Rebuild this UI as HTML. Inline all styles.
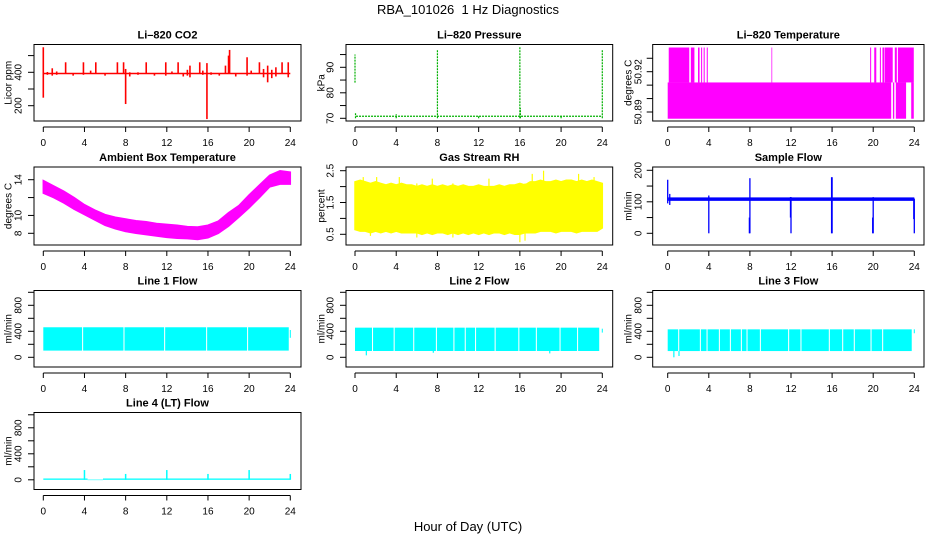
<!DOCTYPE html>
<html><head><meta charset="utf-8"><style>
html,body{margin:0;padding:0;background:#fff;}
svg{display:block;font-family:"Liberation Sans",Arial,sans-serif;}
</style></head><body>
<svg id="chart" width="936" height="540" viewBox="0 0 936 540" xmlns="http://www.w3.org/2000/svg">
<text x="468" y="14" text-anchor="middle" font-size="13">RBA_101026&#160; 1 Hz Diagnostics</text>
<text x="468" y="531" text-anchor="middle" font-size="13">Hour of Day (UTC)</text>
</svg>
<script>
// ---- data ----
const xTicks = [0,4,8,12,16,20,24];
// CO2
const co2Base = 393;
const co2Spikes = [[0,248,550],[0.4,385,402],[0.87,380,424],[1.3,385,405],[2.17,390,460],[2.9,380,395],[3.9,385,460],[4.6,390,410],[5.1,390,460],[6.0,380,395],[7.2,390,460],[7.8,390,460],[8.0,210,420],[8.4,375,400],[9.2,385,400],[10.0,390,460],[10.8,380,395],[11.9,380,460],[12.5,390,405],[13.1,390,460],[13.6,375,395],[14.25,370,440],[14.0,380,415],[15.2,390,460],[15.5,385,410],[15.9,120,455],[16.3,385,400],[17.1,380,395],[17.7,390,440],[18.0,390,500],[18.1,390,534],[18.7,375,395],[19.8,380,490],[20.2,390,410],[21.0,390,460],[21.4,370,420],[21.8,340,440],[22.2,365,415],[22.6,375,430],[23.2,390,460],[23.8,370,460]];
// Pressure
const presBase = 70.8;
const presSpikes = [[0,84,95],[0.05,70,72],[4,70,71.6],[8,70,97],[12,70,71],[16,70,98],[16.05,70,74],[20,70,71],[24,70,97]];
// Li-820 temperature
const tempLow = 50.885, tempMid = 50.912, tempHigh = 50.938;
const tempHighSegs = [[0.1,2.1],[2.25,2.6],[2.95,3.1],[3.25,3.35],[3.5,3.6],[3.8,3.9],[10.1,10.17],[19.7,19.8],[20.1,20.3],[20.65,20.75],[20.9,21.05],[21.1,21.9],[22.1,22.3],[22.4,23.95]];
const tempLowSegs = [[0,21.75],[21.92,22.05],[22.2,23.2],[23.7,23.95]];
// Ambient box temperature (hourly envelope)
const ambUpper = [13.9,13.3,12.7,12.0,11.2,10.6,10.1,9.8,9.6,9.4,9.3,9.1,9.0,8.9,8.75,8.7,8.9,9.35,10.3,11.1,12.3,13.4,14.5,15.0,14.85];
const ambLower = [12.5,12.0,11.4,10.7,10.1,9.5,8.9,8.5,8.2,8.0,7.85,7.7,7.55,7.45,7.4,7.3,7.5,8.0,8.8,9.8,10.85,12.0,13.2,13.5,13.5];
// Gas stream RH (half-hourly envelope)
const rhUpper = [2.15,2.2,2.15,2.1,2.15,2.1,2.05,2.1,2.05,2.1,2.05,2.05,2.0,2.05,2.0,2.05,2.0,2.05,2.0,2.05,2.0,2.05,2.0,2.0,2.05,2.0,2.0,2.0,2.05,2.0,2.05,2.05,2.1,2.05,2.15,2.15,2.2,2.15,2.15,2.2,2.15,2.2,2.2,2.15,2.2,2.15,2.2,2.15,2.1];
const rhLower = [0.65,0.6,0.6,0.55,0.6,0.55,0.6,0.55,0.6,0.55,0.55,0.55,0.55,0.5,0.55,0.5,0.55,0.55,0.5,0.55,0.5,0.55,0.5,0.55,0.5,0.55,0.5,0.55,0.55,0.5,0.55,0.5,0.5,0.55,0.55,0.55,0.6,0.6,0.6,0.55,0.6,0.6,0.6,0.55,0.6,0.6,0.6,0.6,0.7];
const rhSpikes = [[0.8,0.6,2.3],[1.5,0.45,2.1],[2.1,0.6,2.3],[4.3,0.6,2.3],[6.0,0.4,2.1],[7.5,0.6,2.25],[9.5,0.4,2.1],[13.0,0.6,2.25],[16.0,0.25,2.1],[16.5,0.3,2.1],[17.2,0.6,2.4],[18.3,0.6,2.5],[21.7,0.6,2.4],[23.2,0.6,2.3]];
// Sample flow
const sfLow = 103, sfHigh = 114;
const sfSpikes = [[0,95,170],[0.2,90,125],[4,0,120],[7.95,0,50],[8,0,175],[11.95,50,115],[12,0,115],[15.95,0,178],[16,0,178],[19.95,0,50],[20,0,115],[23.95,45,110],[24,0,110]];
// Line flows
const l1Band = [103,462], l1Gaps = [3.82,7.84,11.79,15.87,19.85], l1End = 23.85, l1Tail = [300,420];
const l2Band = [97,456], l2Gaps = [1.7,3.8,5.7,7.9,9.6,10.7,11.7,13.6,15.9,17.6,19.9,21.6], l2End = 23.7, l2Tail = [380,440];
const l3Band = [96,430], l3Gaps = [1.07,3.18,3.83,5.03,6.1,7.17,7.72,9.02,11.77,12.97,15.73,17.03,18.16,19.79,20.92], l3End = 23.75, l3Tail = [370,430];
const l2Dips = [[1.1,30],[7.6,70],[18.9,60]];
const l3Dips = [[0.6,0],[1.1,20]];
const l4Base = [0,20];
const l4Zero = [4.3,5.8];
const l4Spikes = [[4,150],[8,90],[12,150],[16,90],[20,150],[24,90]];

// ---- layout ----
const NS = "http://www.w3.org/2000/svg";
const svg = document.getElementById('chart');
const cols = [
 {b0:34,b1:301,x0:43.3,x24:290.3,yt:9,yl:19},
 {b0:346,b1:612.7,x0:355,x24:602.3,yt:322,yl:331},
 {b0:652.7,b1:924,x0:667.7,x24:914.3,yt:629,yl:639}];
const rows = [[44.5,121],[167,245],[290.5,367],[412.5,489.5]];
function mk(tag, attrs, parent){const e=document.createElementNS(NS,tag);for(const k in attrs)e.setAttribute(k,attrs[k]);(parent||svg).appendChild(e);return e;}
function panel(name,c,r,title,ytitle,ref,ticks,labels){
  const C=cols[c],R=rows[r];
  const g=mk('g',{});
  
  
  const x=h=>C.x0+(C.x24-C.x0)*h/24;
  const y=v=>ref[1]+(v-ref[0])*(ref[3]-ref[1])/(ref[2]-ref[0]);
  const t=mk('text',{x:(C.b0+C.b1)/2,y:R[0]-6,'text-anchor':'middle','font-size':'11','font-weight':'bold'},g);
  t.textContent=title;
  
  
  const yt=mk('text',{transform:`translate(${C.yt},${(R[0]+R[1])/2}) rotate(-90)`,'text-anchor':'middle','dominant-baseline':'central','font-size':'10'},g);
  yt.textContent=ytitle;
  
  
  const marks=mk('g',{},g);
  
  
  const ax=mk('g',{stroke:'#000','stroke-width':'1'},g);
  
  
  mk('rect',{x:C.b0,y:R[0],width:C.b1-C.b0,height:R[1]-R[0],fill:'none'},ax);
  mk('line',{x1:x(0),x2:x(24),y1:R[1]+6,y2:R[1]+6},ax);
  xTicks.forEach(h=>{mk('line',{x1:x(h),x2:x(h),y1:R[1]+6,y2:R[1]+11},ax);
    const l=mk('text',{x:x(h),y:R[1]+25,'text-anchor':'middle','font-size':'10',stroke:'none'},ax);l.textContent=h;
    
    });
  ticks.forEach(v=>{mk('line',{x1:C.b0-6,x2:C.b0,y1:y(v),y2:y(v)},ax);});
  labels.forEach(v=>{const l=mk('text',{transform:`translate(${C.yl},${y(v)}) rotate(-90)`,'text-anchor':'middle','dominant-baseline':'central','font-size':'10',stroke:'none'},ax);l.textContent=v;
    
    });
  return {x,y,g:marks};
}
function vline(p,h,a,b,col,w){mk('line',{x1:p.x(h),x2:p.x(h),y1:p.y(a),y2:p.y(b),stroke:col,'stroke-width':w||1.2},p.g);}
function band(p,h0,h1,a,b,col){const ya=p.y(a),yb=p.y(b);mk('rect',{x:p.x(h0),y:Math.min(ya,yb),width:p.x(h1)-p.x(h0),height:Math.abs(ya-yb),fill:col},p.g);}
function envelope(p,up,lo,step,col){let pts=[];up.forEach((v,i)=>{pts.push(p.x(i*step)+','+p.y(v));});
  for(let i=lo.length-1;i>=0;i--)pts.push(p.x(i*step)+','+p.y(lo[i]));
  mk('polygon',{points:pts.join(' '),fill:col,stroke:col,'stroke-width':'1.5'},p.g);}

// CO2
const pCo2=panel('co2-panel',0,0,'Li–820 CO2','Licor ppm',[400,72.3,200,105.7],[200,300,400,500],[200,400]);
mk('line',{x1:pCo2.x(0),x2:pCo2.x(24),y1:pCo2.y(co2Base),y2:pCo2.y(co2Base),stroke:'#f00','stroke-width':1.5},pCo2.g);
co2Spikes.forEach(s=>vline(pCo2,s[0],s[1],s[2],'#f00',1.6));
// Pressure
const pPr=panel('pressure-panel',1,0,'Li–820 Pressure','kPa',[70,118.3,90,67.3],[70,75,80,85,90,95],[70,80,90]);
mk('line',{x1:pPr.x(0.1),x2:pPr.x(24),y1:pPr.y(presBase),y2:pPr.y(presBase),stroke:'#00b000','stroke-width':1.3,'stroke-dasharray':'2,1'},pPr.g);
presSpikes.forEach(s=>{mk('line',{x1:pPr.x(s[0]),x2:pPr.x(s[0]),y1:pPr.y(s[1]),y2:pPr.y(s[2]),stroke:'#00b000','stroke-width':1.2,'stroke-dasharray':'2,1'},pPr.g);});
// Li-820 temperature
const pT=panel('li820-temperature-panel',2,0,'Li–820 Temperature','degrees C',[50.89,112,50.92,71.7],[50.89,50.90,50.91,50.92,50.93],[50.89,50.92]);
tempHighSegs.forEach(s=>band(pT,s[0],s[1],tempMid,tempHigh,'#f0f'));
tempLowSegs.forEach(s=>band(pT,s[0],s[1],tempLow,tempMid,'#f0f'));
// Ambient
const pA=panel('ambient-temperature-panel',0,1,'Ambient Box Temperature','degrees C',[14,179.7,8,233.3],[8,10,12,14],[8,10,14]);
envelope(pA,ambUpper,ambLower,1,'#f0f');
// RH
const pRH=panel('rh-panel',1,1,'Gas Stream RH','percent',[2.5,170.7,0.5,234.3],[0.5,1,1.5,2,2.5],[0.5,1.5,2.5]);
envelope(pRH,rhUpper,rhLower,0.5,'#ff0');
rhSpikes.forEach(s=>vline(pRH,s[0],s[1],s[2],'#ff0',1.2));
// Sample flow
const pSF=panel('sample-flow-panel',2,1,'Sample Flow','ml/min',[200,170.3,0,233.3],[0,50,100,150,200],[0,100,200]);
band(pSF,0.05,24,sfLow,sfHigh,'#00f');
sfSpikes.forEach(s=>vline(pSF,s[0],s[1],s[2],'#00f',1.3));
// Line flows
function lineFlow(name,c,r,title,bandV,gaps,end,tail,dips){
  const r0=rows[r][1]-9.7;
  const p=panel(name,c,r,title,'ml/min',[0,r0,400,r0-26],[0,200,400,600,800,1000],[0,400,800]);
  let s=0;gaps.forEach(gp=>{band(p,s,gp-0.05,bandV[0],bandV[1],'#0ff');s=gp+0.05;});
  band(p,s,end,bandV[0],bandV[1],'#0ff');
  band(p,23.95,24.05,tail[0],tail[1],'#0ff');
  dips.forEach(d=>vline(p,d[0],d[1],bandV[0],'#0ff',1.2));
  return p;
}
lineFlow('line1-flow-panel',0,2,'Line 1 Flow',l1Band,l1Gaps,l1End,l1Tail,[]);
lineFlow('line2-flow-panel',1,2,'Line 2 Flow',l2Band,l2Gaps,l2End,l2Tail,l2Dips);
lineFlow('line3-flow-panel',2,2,'Line 3 Flow',l3Band,l3Gaps,l3End,l3Tail,l3Dips);
const r4=rows[3][1]-9.7;
const p4=panel('line4-flow-panel',0,3,'Line 4 (LT) Flow','ml/min',[0,r4,400,r4-26],[0,200,400,600,800,1000],[0,400,800]);
band(p4,0,l4Zero[0],l4Base[0],l4Base[1],'#0ff');
band(p4,l4Zero[0],l4Zero[1],-5,3,'#0ff');
band(p4,l4Zero[1],24,l4Base[0],l4Base[1],'#0ff');
l4Spikes.forEach(s=>vline(p4,s[0],0,s[1],'#0ff',1.5));
</script>
</body></html>
